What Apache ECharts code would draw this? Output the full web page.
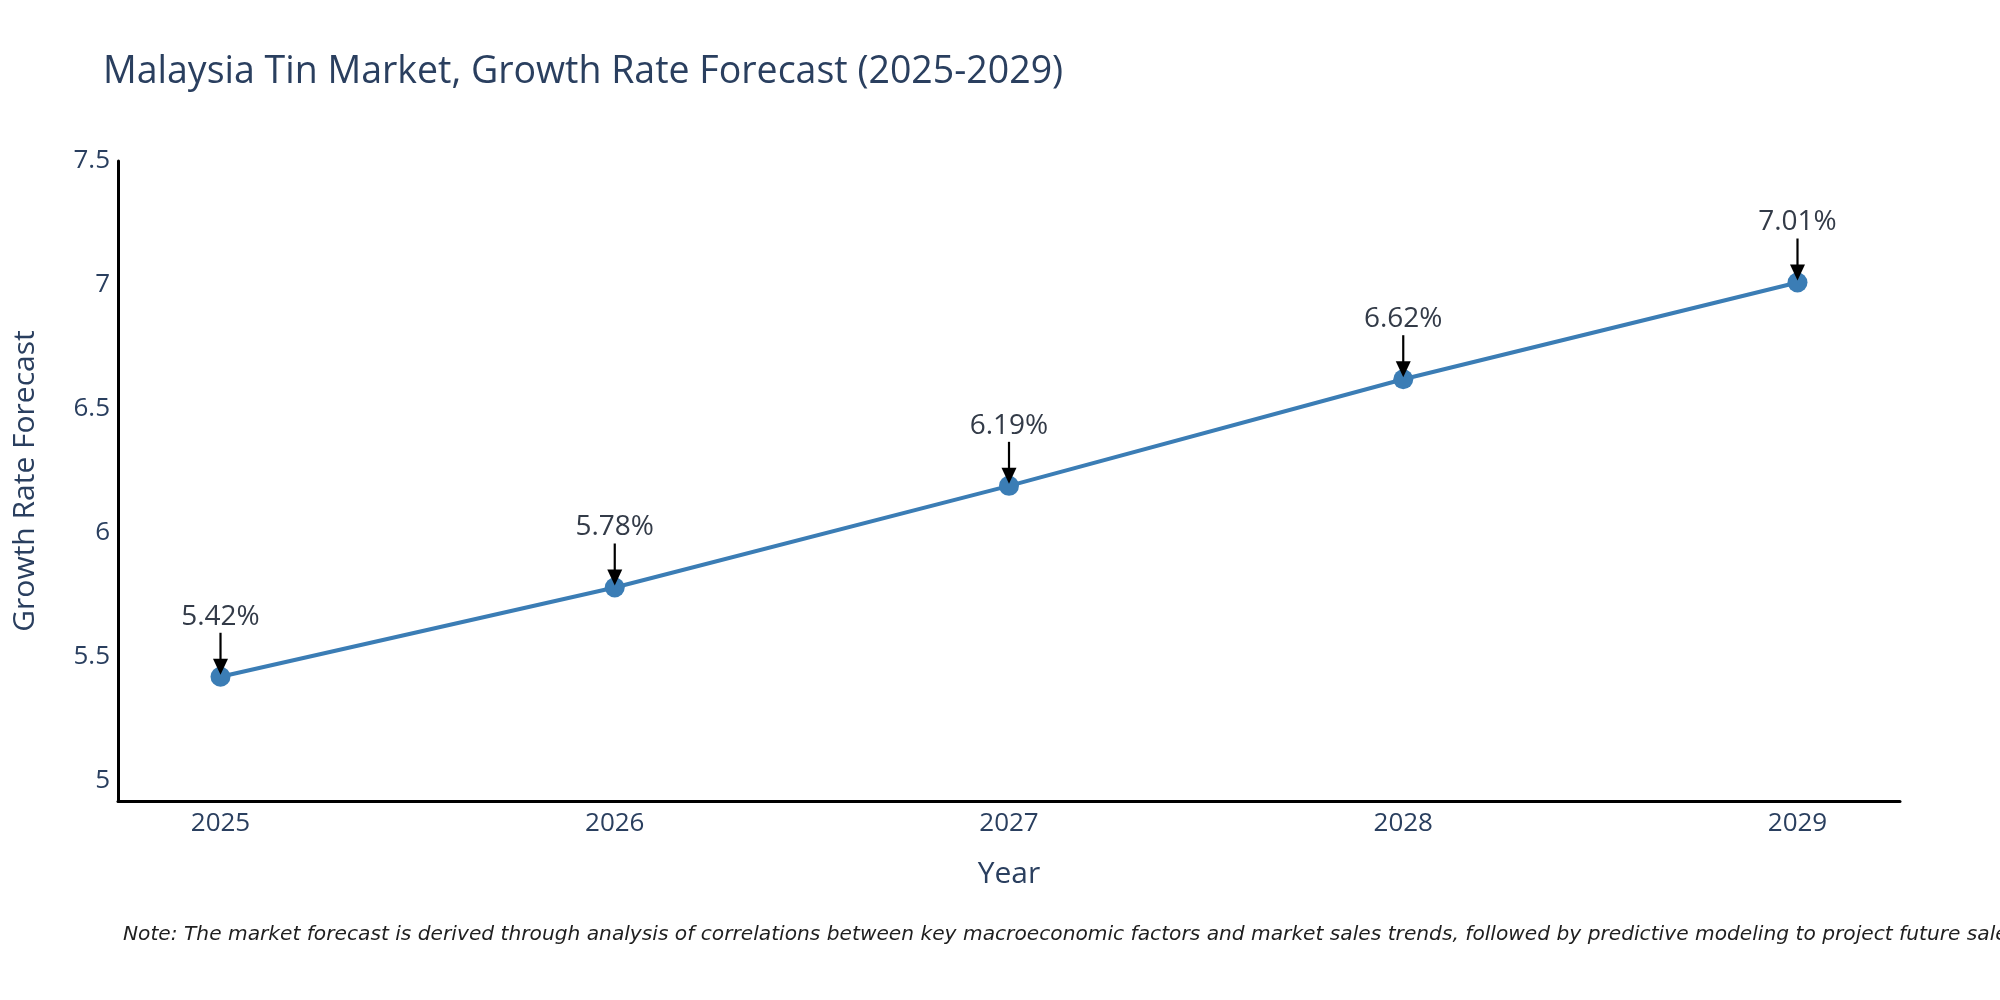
<!DOCTYPE html>
<html lang="en">
<head>
    <meta charset="UTF-8">
    <title>Malaysia Tin Market, Growth Rate Forecast</title>
    <script src="https://cdn.jsdelivr.net/npm/echarts@6/dist/echarts.min.js"></script>
    <style>
        html, body {
            margin: 0;
            padding: 0;
            background-color: #fff;
        }

        #chart {
            width: 2000px;
            height: 1000px;
        }
    </style>
</head>
<body>
    <div id="chart"></div>

    <script>
        // data
        const years = [2025, 2026, 2027, 2028, 2029];
        const growth = [5.42, 5.78, 6.19, 6.62, 7.01];
        const yTicks = [5, 5.5, 6, 6.5, 7, 7.5];

        const points = years.map((y, i) => [y, growth[i]]);
        const textColor = '#2a3f5f';
        const lineColor = '#3b7db5';

        const chart = echarts.init(document.getElementById('chart'));

        const option = {
            backgroundColor: '#fff',
            animation: false,
            textStyle: {
                fontFamily: "'Open Sans', sans-serif"
            },
            title: {
                text: 'Malaysia Tin Market, Growth Rate Forecast (2025-2029)',
                left: 98,
                top: 48,
                textStyle: {
                    fontFamily: "'Open Sans', sans-serif",
                    fontSize: 37.5,
                    fontWeight: 'normal',
                    color: textColor
                }
            },
            grid: {
                left: 118,
                right: 100,
                top: 161,
                bottom: 199,
                containLabel: false
            },
            xAxis: {
                type: 'value',
                min: 2024.74,
                max: 2029.26,
                name: 'Year',
                nameLocation: 'middle',
                nameGap: 58,
                nameTextStyle: {
                    fontSize: 30,
                    color: textColor
                },
                axisLine: {
                    show: true,
                    onZero: false,
                    lineStyle: { color: '#000', width: 3 }
                },
                axisTick: { show: false },
                splitLine: { show: false },
                axisLabel: {
                    customValues: years,
                    fontSize: 26,
                    color: textColor,
                    margin: 10,
                    formatter: v => String(v)
                }
            },
            yAxis: {
                type: 'value',
                min: 4.919,
                max: 7.5,
                name: 'Growth Rate Forecast',
                nameLocation: 'middle',
                nameGap: 78,
                nameTextStyle: {
                    fontSize: 30,
                    color: textColor
                },
                axisLine: {
                    show: true,
                    onZero: false,
                    lineStyle: { color: '#000', width: 3 }
                },
                axisTick: { show: false },
                splitLine: { show: false },
                axisLabel: {
                    customValues: yTicks,
                    fontSize: 26,
                    color: textColor,
                    margin: 8
                }
            },
            series: [
                {
                    name: 'Growth Rate',
                    type: 'line',
                    data: points,
                    symbol: 'circle',
                    symbolSize: 20,
                    lineStyle: { color: lineColor, width: 4 },
                    itemStyle: { color: lineColor },
                    z: 2
                },
                {
                    // arrow annotations with the value above each point
                    name: 'labels',
                    type: 'custom',
                    data: points,
                    z: 5,
                    renderItem(params, api) {
                        const p = api.coord([api.value(0), api.value(1)]);
                        const x = p[0];
                        const y = p[1];
                        return {
                            type: 'group',
                            children: [
                                {
                                    type: 'text',
                                    style: {
                                        text: growth[params.dataIndex].toFixed(2) + '%',
                                        x: x,
                                        y: y - 60,
                                        align: 'center',
                                        verticalAlign: 'middle',
                                        fontSize: 28,
                                        fontFamily: "'Open Sans', sans-serif",
                                        fill: '#333b48'
                                    }
                                },
                                {
                                    type: 'line',
                                    shape: { x1: x, y1: y - 44, x2: x, y2: y - 14 },
                                    style: { stroke: '#000', lineWidth: 2.2 }
                                },
                                {
                                    type: 'polygon',
                                    shape: {
                                        points: [[x - 7.5, y - 18], [x + 7.5, y - 18], [x, y - 2]]
                                    },
                                    style: { fill: '#000' }
                                }
                            ]
                        };
                    }
                }
            ],
            graphic: [
                {
                    type: 'text',
                    left: 123,
                    top: 925,
                    style: {
                        text: 'Note: The market forecast is derived through analysis of correlations between key macroeconomic factors and market sales trends, followed by predictive modeling to project future sales.',
                        font: "italic 20.2px 'DejaVu Sans'",
                        fill: '#1f1f1f'
                    }
                }
            ]
        };

        chart.setOption(option);
    </script>
</body>
</html>
